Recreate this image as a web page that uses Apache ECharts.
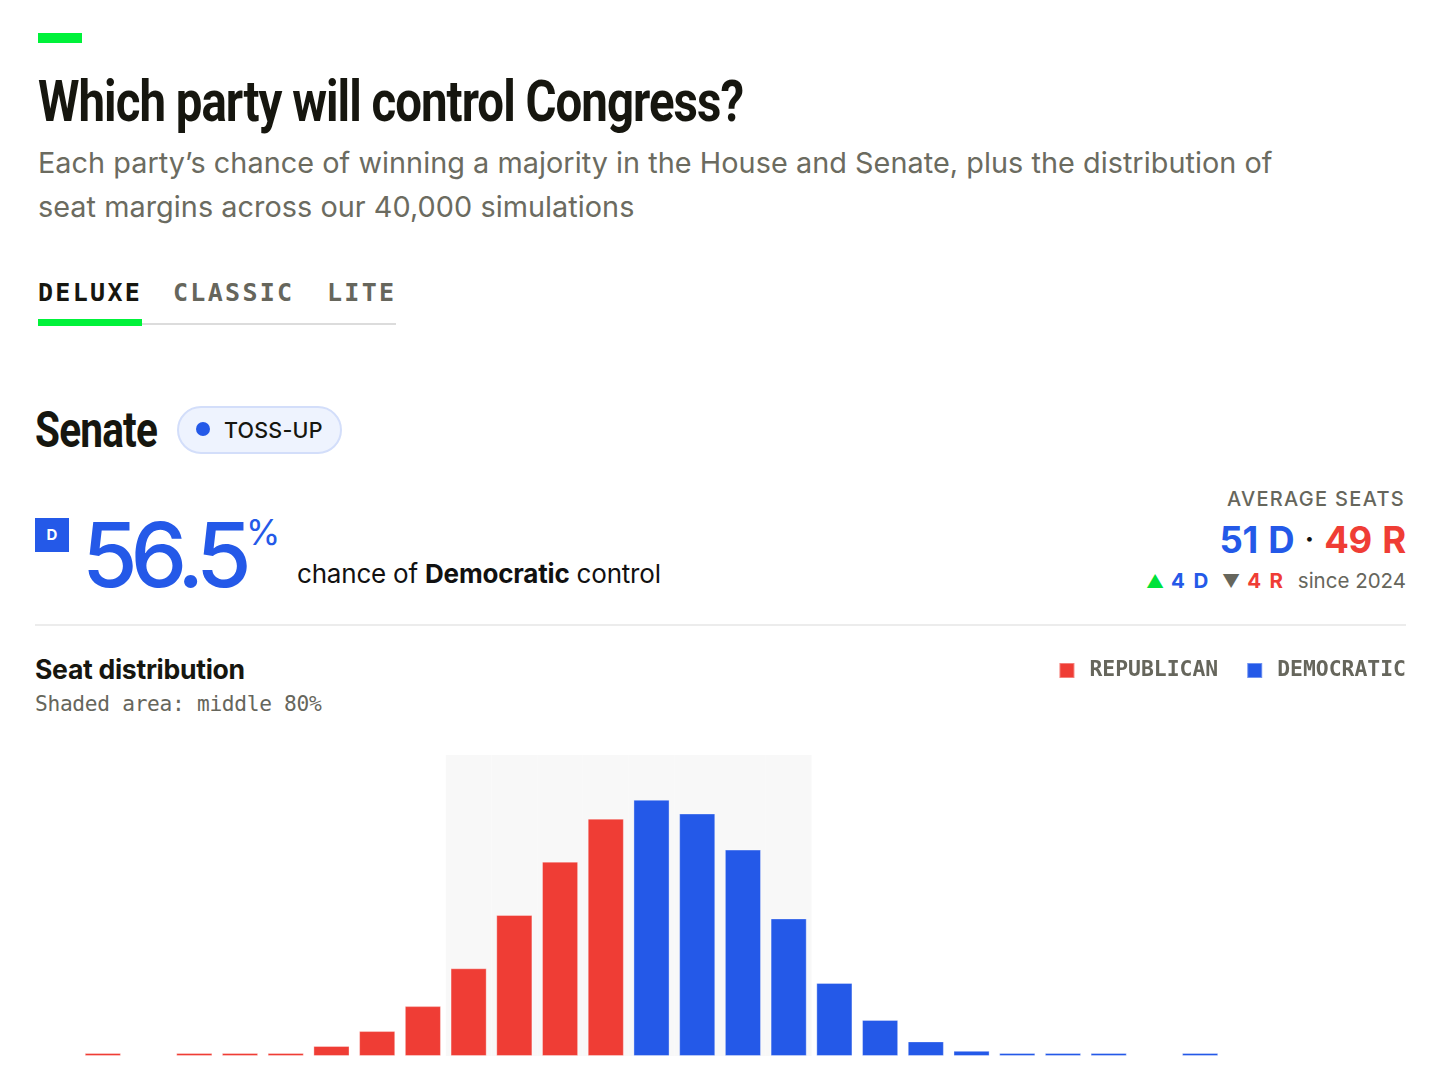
<!DOCTYPE html>
<html>
<head>
<meta charset="utf-8">
<script src="https://cdn.jsdelivr.net/npm/echarts@6/dist/echarts.min.js"></script>
<style>
  html, body { margin: 0; padding: 0; background: #ffffff; }
  body { width: 1436px; height: 1074px; position: relative; overflow: hidden; font-family: Inter, "Noto Sans", sans-serif; }
  .abs { position: absolute; white-space: nowrap; }
  #greenbar { left: 38px; top: 33px; width: 44px; height: 10px; background: #00f23a; }
  #title { left: 38px; top: 66px; font-family: Roboto, "Liberation Sans", sans-serif; font-weight: 700; font-size: 58px; letter-spacing: -1.2px; color: #16160f; line-height: 70px; transform-origin: 0 0; }
  #subtitle { left: 38px; top: 141px; font-size: 28.8px; line-height: 44px; color: #6b6b60; letter-spacing: 0.05px; }
  .tab { top: 276px; font-family: "DejaVu Sans Mono", monospace; font-weight: 700; font-size: 25px; letter-spacing: 2.3px; line-height: 34px; color: #66665c; }
  #tabline { left: 38px; top: 323px; width: 358px; height: 2px; background: #dcdcdc; }
  #tabactive { left: 38px; top: 319px; width: 104px; height: 7px; background: #00f23a; }
  #senate { left: 35px; top: 400px; font-family: Roboto, "Liberation Sans", sans-serif; font-weight: 700; font-size: 50px; letter-spacing: -1px; color: #16160f; line-height: 60px; transform-origin: 0 0; }
  #pill { left: 177px; top: 406px; width: 161px; height: 44px; border: 2px solid #d3defa; border-radius: 24px; background: #eef3fe; box-sizing: content-box; }
  #pilldot { left: 196px; top: 422px; width: 14px; height: 14px; border-radius: 7px; background: #2459e8; }
  #pilltext { left: 224px; top: 415px; font-size: 21.5px; font-weight: 500; letter-spacing: 0.2px; color: #16160f; line-height: 30px; }
  #dbox { left: 35px; top: 518px; width: 34px; height: 34px; background: #2459e8; color: #fff; font-weight: 700; font-size: 15px; line-height: 34px; text-align: center; }
  #big { left: 82px; top: 500px; font-size: 90px; font-weight: 500; letter-spacing: -7.2px; color: #2459e8; line-height: 110px; }
  #pct { left: 246px; top: 510px; font-size: 35px; font-weight: 400; color: #2459e8; line-height: 44px; }
  #chance { left: 297px; top: 557px; font-size: 26px; color: #111; line-height: 34px; letter-spacing: -0.2px; }
  #avglabel { right: 31px; top: 485px; font-size: 20px; font-weight: 500; letter-spacing: 1.3px; color: #66665c; line-height: 28px; }
  #avgseats { right: 30px; top: 517px; font-size: 36.5px; font-weight: 700; letter-spacing: -0.3px; line-height: 46px; word-spacing: 2px; }
  #since { right: 30px; top: 567px; font-size: 20.5px; line-height: 28px; color: #66665c; }
  #since span { display: inline-block; }
  #divider { left: 35px; top: 624px; width: 1371px; height: 2px; background: #ececec; }
  #seatdist { left: 35px; top: 653px; font-size: 26.6px; font-weight: 700; color: #16160f; line-height: 32px; letter-spacing: -0.3px; }
  #shaded { left: 35px; top: 690px; font-family: "DejaVu Sans Mono", monospace; font-size: 21.2px; color: #66665c; line-height: 28px; letter-spacing: -0.3px; }
  #chart { position: absolute; left: 0; top: 640px; width: 1436px; height: 434px; }
  .blue { color: #2459e8; }
  .red { color: #ef3d35; }
</style>
</head>
<body>
<div class="abs" id="greenbar"></div>
<div class="abs" id="title">Which party will control Congress?</div>
<div class="abs" id="subtitle">Each party’s chance of winning a majority in the House and Senate, plus the distribution of<br>seat margins across our 40,000 simulations</div>
<div class="abs tab" style="left:38px;color:#16160f;">DELUXE</div>
<div class="abs tab" style="left:173px;">CLASSIC</div>
<div class="abs tab" style="left:327px;">LITE</div>
<div class="abs" id="tabline"></div>
<div class="abs" id="tabactive"></div>
<div class="abs" id="senate">Senate</div>
<div class="abs" id="pill"></div>
<div class="abs" id="pilldot"></div>
<div class="abs" id="pilltext">TOSS-UP</div>
<div class="abs" id="dbox">D</div>
<div class="abs" id="big">56.5</div>
<div class="abs" id="pct">%</div>
<div class="abs" id="chance">chance of <b>Democratic</b> control</div>
<div class="abs" id="avglabel">AVERAGE SEATS</div>
<div class="abs" id="avgseats"><span class="blue">51 D</span>&nbsp;<span style="color:#111;font-size:28px;position:relative;top:-4px;">·</span>&nbsp;<span class="red">49 R</span></div>
<div class="abs" id="since"><span style="color:#00e23a;font-size:18px;margin-right:7px;">▲</span><span class="blue" style="font-weight:700;letter-spacing:1.8px;margin-right:12px;">4 D</span><span style="color:#66665c;font-size:18px;margin-right:7px;">▼</span><span class="red" style="font-weight:700;letter-spacing:1.8px;margin-right:13px;">4 R</span><span>since 2024</span></div>
<div class="abs" id="divider"></div>
<div class="abs" id="seatdist">Seat distribution</div>
<div class="abs" id="shaded">Shaded area: middle 80%</div>
<div id="chart"></div>
<script>
// fit condensed headings to their widths
function fitWidth(id, target) {
  const el = document.getElementById(id);
  const w = el.getBoundingClientRect().width;
  el.style.transform = 'scaleX(' + (target / w) + ')';
}
fitWidth('title', 705);
fitWidth('senate', 122);

// Democratic Senate seats (each bar = one seat outcome)
const seats = ['39','40','41','42','43','44','45','46','47','48','49','50','51','52','53','54','55','56','57','58','59','60','61','62','63'];
// Share of simulations (%) for Republican-control outcomes
const republicanShare = [0.04, null, 0.04, 0.04, 0.04, 0.58, 1.45, 2.9, 5.1, 8.2, 11.3, 13.8, null, null, null, null, null, null, null, null, null, null, null, null, null];
// Share of simulations (%) for Democratic-control outcomes
const democraticShare = [null, null, null, null, null, null, null, null, null, null, null, null, 14.9, 14.1, 12.0, 8.0, 4.25, 2.1, 0.85, 0.3, 0.04, 0.04, 0.04, null, 0.04];
// Middle 80% band (index range of outcomes)
const middleStart = 8;
const middleEnd = 15;
const yMax = 17.5;

const shadedBand = seats.map((s, i) => (i >= middleStart && i <= middleEnd) ? yMax : null);

const chart = echarts.init(document.getElementById('chart'), null, { renderer: 'canvas' });
chart.setOption({
  animation: false,
  legend: {
    right: 25,
    top: 15,
    itemWidth: 15,
    itemHeight: 15,
    itemGap: 28,
    icon: 'rect',
    data: ['REPUBLICAN', 'DEMOCRATIC'],
    textStyle: { fontFamily: '"DejaVu Sans Mono", monospace', fontWeight: 'bold', fontSize: 21.4, color: '#66665c', padding: [0, 0, 0, 10] }
  },
  grid: { left: 80, right: 213, top: 115, bottom: 18 },
  xAxis: [
    { type: 'category', data: seats, show: false, boundaryGap: true },
    { type: 'category', data: seats, show: false, boundaryGap: true }
  ],
  yAxis: { type: 'value', min: 0, max: yMax, show: false },
  series: [
    {
      name: 'middle80', type: 'bar', xAxisIndex: 1, data: shadedBand, barWidth: '100%',
      itemStyle: { color: '#f8f8f8' }, silent: true, z: 1
    },
    {
      name: 'REPUBLICAN', type: 'bar', xAxisIndex: 0, data: republicanShare, barWidth: '79%', barGap: '-100%',
      barMinHeight: 3,
      itemStyle: { color: '#ef3d35', borderColor: 'rgba(255,255,255,0.35)', borderWidth: 1 }, z: 3
    },
    {
      name: 'DEMOCRATIC', type: 'bar', xAxisIndex: 0, data: democraticShare, barWidth: '79%', barGap: '-100%',
      barMinHeight: 3,
      itemStyle: { color: '#2459e8', borderColor: 'rgba(255,255,255,0.35)', borderWidth: 1 }, z: 3
    }
  ]
});
</script>
</body>
</html>
